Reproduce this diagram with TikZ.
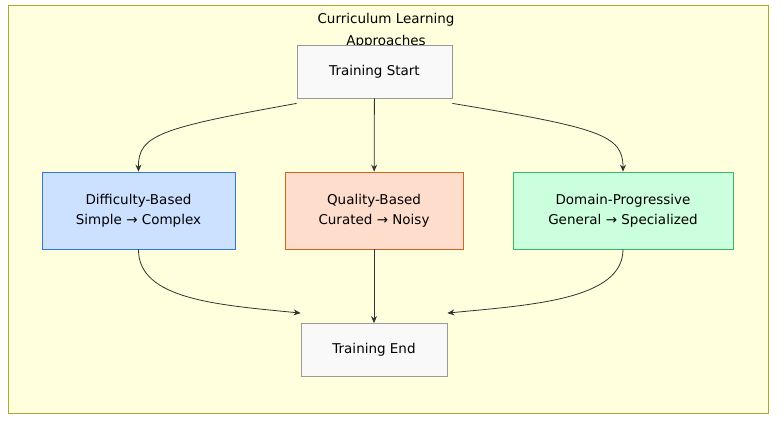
\documentclass[tikz,border=0pt]{standalone}
\usepackage{fontspec}
\setmainfont{DejaVu Sans}
\usetikzlibrary{arrows.meta}
\definecolor{clfill}{HTML}{FFFFDE}
\definecolor{cldraw}{HTML}{AAAA33}
\begin{document}
\begin{tikzpicture}[x=1pt,y=-1pt,
  box/.style={draw, line width=0.8pt, minimum width=#1, minimum height=53pt, align=center, font=\fontsize{13.5}{20}\selectfont, inner sep=0pt},
  grey/.style={box=#1, fill={rgb,255:red,249;green,249;blue,249}, draw={rgb,255:red,153;green,153;blue,153}},
  arr/.style={-{Stealth[length=7pt,width=6pt]}, line width=0.8pt, draw={rgb,255:red,51;green,51;blue,51}}]
\useasboundingbox (0,0) rectangle (784,427);
\node[draw=cldraw, fill=clfill, line width=0.8pt, minimum width=760pt, minimum height=408pt, inner sep=0pt] (cl) at (388,209) {};
\node[font=\fontsize{13.5}{22}\selectfont, align=center, anchor=north] (t) at (386,10) {Curriculum Learning\\Approaches};
\node[grey=155pt] (s) at (374.5,71.5) {Training Start};
\node[box=193pt, minimum height=77pt, fill={rgb,255:red,204;green,224;blue,255}, draw={rgb,255:red,51;green,119;blue,221}] (d) at (138.5,210.5) {Difficulty-Based\\Simple → Complex};
\node[box=178pt, minimum height=77pt, fill={rgb,255:red,255;green,221;blue,204}, draw={rgb,255:red,204;green,102;blue,34}] (q) at (374,210.5) {Quality-Based\\Curated → Noisy};
\node[box=220pt, minimum height=77pt, fill={rgb,255:red,204;green,255;blue,221}, draw={rgb,255:red,51;green,187;blue,102}] (m) at (623,210.5) {Domain-Progressive\\General → Specialized};
\node[grey=146pt] (e) at (374,350) {Training End};
\draw[arr] ([yshift=-5pt]s.south west) .. controls (160,128) and (138,135) .. (d.north);
\draw[arr] (s) -- (q);
\draw[arr] ([yshift=-5pt]s.south east) .. controls (600,128) and (623,135) .. (m.north);
\draw[arr] (d.south) .. controls (138,300) and (220,305) .. ([yshift=10pt]e.north west);
\draw[arr] (q) -- (e);
\draw[arr] (m.south) .. controls (623,300) and (530,305) .. ([yshift=10pt]e.north east);
\end{tikzpicture}
\end{document}
